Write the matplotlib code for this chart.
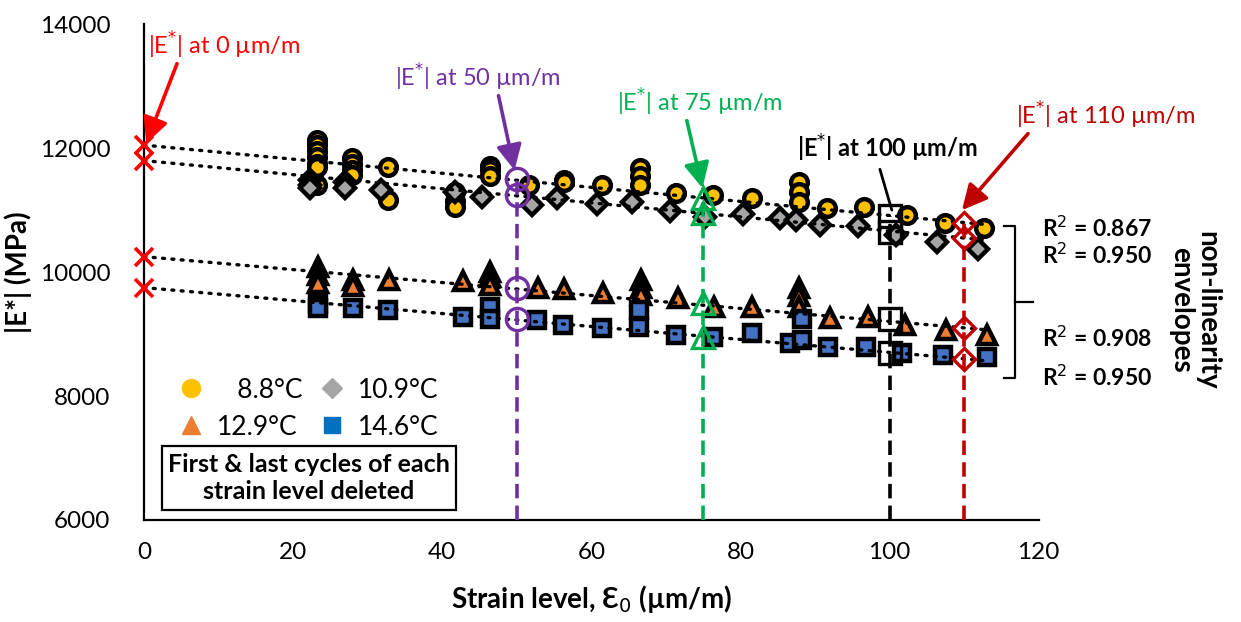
import numpy as np
import matplotlib.pyplot as plt
from matplotlib.lines import Line2D

plt.rcParams['font.family'] = ['Lato', 'DejaVu Sans']

# measured |E*| values (MPa) vs strain level (um/m)
x_88 = [23.2, 23.2, 23.2, 23.2, 23.2, 23.2, 23.2, 27.9, 27.9, 27.9, 27.9, 32.7, 32.7,
        41.7, 41.7, 41.7, 46.4, 46.4, 46.4, 51.7, 56.4, 56.4, 61.4, 66.5, 66.5, 66.5,
        71.4, 76.3, 81.5, 87.9, 87.9, 87.9, 91.6, 96.6, 102.3, 107.4, 112.7]
y_88 = [12130, 12050, 11950, 11850, 11750, 11690, 11400, 11840, 11750, 11650, 11560, 11690, 11160,
        11290, 11150, 11050, 11720, 11650, 11550, 11400, 11480, 11450, 11400, 11680, 11550, 11400,
        11270, 11250, 11200, 11450, 11300, 11130, 11030, 11050, 10920, 10800, 10720]

x_109 = [22.3, 22.3, 22.3, 26.9, 26.9, 31.8, 41.7, 45.4, 52.1, 55.4, 60.7, 65.4, 70.5,
         75.3, 80.3, 85.3, 87.5, 90.6, 95.8, 100.9, 106.3, 111.8]
y_109 = [11480, 11400, 11350, 11450, 11350, 11320, 11290, 11210, 11080, 11190, 11100, 11130, 10990,
         10890, 10930, 10870, 10840, 10760, 10740, 10600, 10480, 10380]

x_129 = [23.3, 23.3, 23.3, 28.0, 28.0, 32.8, 42.8, 46.4, 46.4, 46.4, 52.8, 56.4, 61.5,
         66.6, 66.6, 66.6, 71.6, 76.4, 81.6, 87.8, 87.8, 87.8, 92.0, 97.1, 102.0, 107.6, 113.0]
y_129 = [10080, 9950, 9820, 9870, 9780, 9880, 9860, 10000, 9920, 9800, 9740, 9720, 9660,
         9870, 9750, 9630, 9580, 9430, 9430, 9750, 9620, 9440, 9260, 9280, 9140, 9060, 8980]

x_146 = [23.3, 23.3, 28.1, 32.7, 42.8, 46.4, 46.4, 52.7, 56.2, 61.4, 66.4, 66.4, 71.4,
         76.3, 81.5, 86.6, 88.2, 88.2, 91.7, 96.9, 101.7, 107.1, 113.0]
y_146 = [9480, 9420, 9420, 9390, 9270, 9430, 9250, 9230, 9150, 9100, 9390, 9110, 8980,
         8950, 9010, 8850, 9250, 8900, 8790, 8790, 8690, 8660, 8630]

# linear trendlines (intercept at 0 um/m, slope)
trend_b = [12050, 11800, 10250, 9750]
trend_m = [-11.36, -11.36, -10.45, -10.45]
trend_end = 113

# |E*| estimates at given strain levels
e_at_0 = [12050, 11800, 10250, 9750]
e_at_50 = [11500, 11250, 9750, 9250]
e_at_75 = [11200, 10950, 9500, 8950]
e_at_100 = [10900, 10650, 9250, 8700]
e_at_110 = [10800, 10550, 9100, 8600]

r2_labels = ['R$^2$ = 0.867', 'R$^2$ = 0.950', 'R$^2$ = 0.908', 'R$^2$ = 0.950']
r2_y = [10710, 10274, 8935, 8306]

fig = plt.figure(figsize=(12.41, 6.22), dpi=100)
ax = fig.add_axes([0.116, 0.164, 0.721, 0.797])

series = [
    (x_88, y_88, 'o', '#FFC000', 12),
    (x_109, y_109, 'D', '#A5A5A5', 10.5),
    (x_129, y_129, '^', '#ED7D31', 12.5),
    (x_146, y_146, 's', '#4472C4', 11.5),
]
for xs, ys, mk, col, ms in series:
    ax.plot(xs, ys, linestyle='none', marker=mk, markersize=ms, markerfacecolor=col,
            markeredgecolor='black', markeredgewidth=3.2, zorder=3)

xx = np.array([0, trend_end])
for b, m in zip(trend_b, trend_m):
    ax.plot(xx, b + m * xx, color='black', linestyle=(0, (0.6, 2.2)), lw=2.4,
            dash_capstyle='round', zorder=4)

# vertical dashed guides
guides = [(50, e_at_50, '#7030A0'), (75, e_at_75, '#00B050'),
          (100, e_at_100, 'black'), (110, e_at_110, '#C00000')]
for xv, vals, col in guides:
    ax.plot([xv, xv], [6000, max(vals)], color=col, lw=2.6, linestyle=(0, (4, 2)), zorder=5)

ax.plot([0] * 4, e_at_0, linestyle='none', marker='x', markersize=13, markeredgewidth=2.6,
        color='#FF0000', zorder=6, clip_on=False)
ax.plot([50] * 4, e_at_50, linestyle='none', marker='o', markersize=16, markeredgewidth=2.4,
        markerfacecolor='none', markeredgecolor='#7030A0', zorder=6)
ax.plot([75] * 4, e_at_75, linestyle='none', marker='^', markersize=16, markeredgewidth=2.4,
        markerfacecolor='none', markeredgecolor='#00B050', zorder=6)
ax.plot([100] * 4, e_at_100, linestyle='none', marker='s', markersize=16, markeredgewidth=2.4,
        markerfacecolor='none', markeredgecolor='black', zorder=6)
ax.plot([110] * 4, e_at_110, linestyle='none', marker='D', markersize=11, markeredgewidth=2.4,
        markerfacecolor='none', markeredgecolor='#C00000', zorder=6)

# annotations
arrow = dict(arrowstyle='-|>,head_length=0.9,head_width=0.45', lw=2.6, shrinkA=0, shrinkB=0)
ax.annotate('|E$^{*}$| at 0 µm/m', xy=(0.3, 12080), xytext=(0.5, 13661), color='#FF0000',
            fontsize=17, ha='left', va='center', annotation_clip=False,
            arrowprops=dict(arrow, color='#FF0000', relpos=(0.2, 0.0)))
ax.annotate('|E$^{*}$| at 50 µm/m', xy=(49.7, 11645), xytext=(44.8, 13145), color='#7030A0',
            fontsize=17, ha='center', va='center',
            arrowprops=dict(arrow, color='#7030A0', relpos=(0.62, 0.0)))
ax.annotate('|E$^{*}$| at 75 µm/m', xy=(74.9, 11355), xytext=(74.5, 12742), color='#00B050',
            fontsize=17, ha='center', va='center',
            arrowprops=dict(arrow, color='#00B050', relpos=(0.42, 0.0)))
ax.annotate('|E$^{*}$| at 100 µm/m', xy=(100.3, 11000), xytext=(99.7, 12000), color='black',
            fontsize=17, fontweight='bold', ha='center', va='center',
            arrowprops=dict(arrowstyle='-', lw=2, color='black', relpos=(0.45, 0.0),
                            shrinkA=2, shrinkB=0))
ax.annotate('|E$^{*}$| at 110 µm/m', xy=(109.7, 11000), xytext=(129, 12532), color='#C00000',
            fontsize=17, ha='center', va='center', annotation_clip=False,
            arrowprops=dict(arrow, color='#C00000', relpos=(0.08, 0.0)))

# R2 labels and bracket
for lab, yv in zip(r2_labels, r2_y):
    ax.text(120.5, yv, lab, fontsize=16.5, fontweight='bold', ha='left', va='center',
            clip_on=False)
ax.plot([115.4, 116.8, 116.8, 115.4], [10742, 10742, 8290, 8290], color='black', lw=1.6,
        clip_on=False)
ax.plot([116.8, 119.2], [9516, 9516], color='black', lw=1.6, clip_on=False)
ax.text(140.9, 9387, 'non-linearity\nenvelopes', rotation=-90, fontsize=20,
        fontweight='bold', ha='center', va='center', linespacing=1.0, clip_on=False)

# legend
handles = [
    Line2D([], [], linestyle='none', marker='o', markersize=13, color='#FFC000'),
    Line2D([], [], linestyle='none', marker='^', markersize=13, color='#ED7D31'),
    Line2D([], [], linestyle='none', marker='D', markersize=10, color='#A5A5A5'),
    Line2D([], [], linestyle='none', marker='s', markersize=11, color='#0070C0'),
]
labels = ['   8.8°C', '12.9°C', '10.9°C', '14.6°C']
ax.legend(handles, labels, ncol=2, loc='upper left', bbox_to_anchor=(0.005, 0.335),
          frameon=False, fontsize=19, handletextpad=0.3, columnspacing=0.4,
          labelspacing=0.45, handlelength=1.4)

ax.text(22.1, 6677, 'First & last cycles of each\nstrain level deleted', fontsize=18,
        fontweight='bold', ha='center', va='center', linespacing=1.25,
        bbox=dict(boxstyle='square,pad=0.25', facecolor='white', edgecolor='black', lw=1.6))

ax.set_xlim(0, 120)
ax.set_ylim(6000, 14000)
ax.set_xticks(np.arange(0, 121, 20))
ax.set_yticks(np.arange(6000, 14001, 2000))
ax.tick_params(labelsize=17.5, length=0, pad=14)
ax.tick_params(axis='y', pad=24)
ax.tick_params(axis='x', pad=16)
ax.spines['top'].set_visible(False)
ax.spines['right'].set_visible(False)
ax.spines['left'].set_linewidth(1.6)
ax.spines['bottom'].set_linewidth(1.6)
ax.set_xlabel('Strain level, Ɛ$_0$ (µm/m)', fontsize=20, fontweight='bold', labelpad=14)
ax.set_ylabel('|E*| (MPa)', fontsize=20, fontweight='bold', labelpad=6)

fig.savefig('out.png', dpi=100)
